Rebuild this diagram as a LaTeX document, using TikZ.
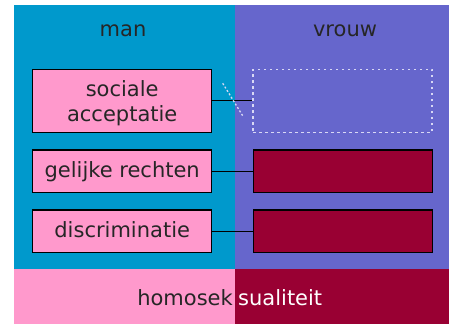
\documentclass[tikz,border=0pt]{standalone}
\usepackage{fontspec}
\setmainfont{DejaVu Sans}
\definecolor{manblue}{HTML}{0099CC}
\definecolor{vrouwpurple}{HTML}{6666CC}
\definecolor{pinkc}{HTML}{FF99CC}
\definecolor{darkred}{HTML}{990033}
\definecolor{dashc}{HTML}{D8D8F4}
\begin{document}
\begin{tikzpicture}[x=1pt,y=-1pt,
  every node/.style={font=\fontsize{21}{25}\selectfont, text=black!85},
  manbox/.style={draw=black, line width=1.4pt, fill=pinkc, minimum width=179pt, inner sep=0pt, align=center},
  vbox/.style={draw=black, line width=1.4pt, fill=darkred, minimum width=179pt, inner sep=0pt},
  emptybox/.style={draw=dashc, line width=1.3pt, dash pattern=on 2.5pt off 3.5pt, minimum width=179pt, minimum height=63pt, inner sep=0pt},
  link/.style={draw=black, line width=1.3pt},
  lbl/.style={anchor=base}
]
\useasboundingbox (0,0) rectangle (449,324);
\fill[manblue] (14,5) rectangle (235,269.3);
\fill[vrouwpurple] (235,5) rectangle (449,269.3);
\fill[pinkc] (14,269.3) rectangle (235,324);
\fill[darkred] (235,269.3) rectangle (449,324);

\node[lbl] (man) at (123,36.5) {man};
\node[lbl] (vrouw) at (345,36.5) {vrouw};

\node[manbox, minimum height=63pt] (sa) at (122.2,100.8) {};
\node[lbl] (sa1) at (122.2,96.7) {sociale};
\node[lbl] (sa2) at (122.2,121.7) {acceptatie};
\node[emptybox] (sar) at (342.5,100.8) {};

\node[manbox, minimum height=42.7pt] (gr) at (122.2,171.3) {};
\node[lbl] (grt) at (122.2,177) {gelijke rechten};
\node[vbox, minimum height=42.7pt] (grr) at (342.8,171.3) {};

\node[manbox, minimum height=42.7pt] (di) at (122.2,231.3) {};
\node[lbl] (dit) at (122.2,237) {discriminatie};
\node[vbox, minimum height=42.7pt] (dir) at (342.8,231.3) {};

\draw[link] (sa.east) -- (sar.west);
\draw[link] (gr.east) -- (grr.west);
\draw[link] (di.east) -- (dir.west);

\coordinate (c1) at (222.7,83.3);
\coordinate (c2) at (243.3,116.7);
\draw[dashc, line width=1.3pt, dash pattern=on 2pt off 2pt] (c1) -- (c2);

\node[anchor=base east, inner sep=0pt] (h1) at (233,305) {homosek};
\node[anchor=base west, inner sep=0pt, text=white] (h2) at (238,305) {sualiteit};
\end{tikzpicture}
\end{document}
